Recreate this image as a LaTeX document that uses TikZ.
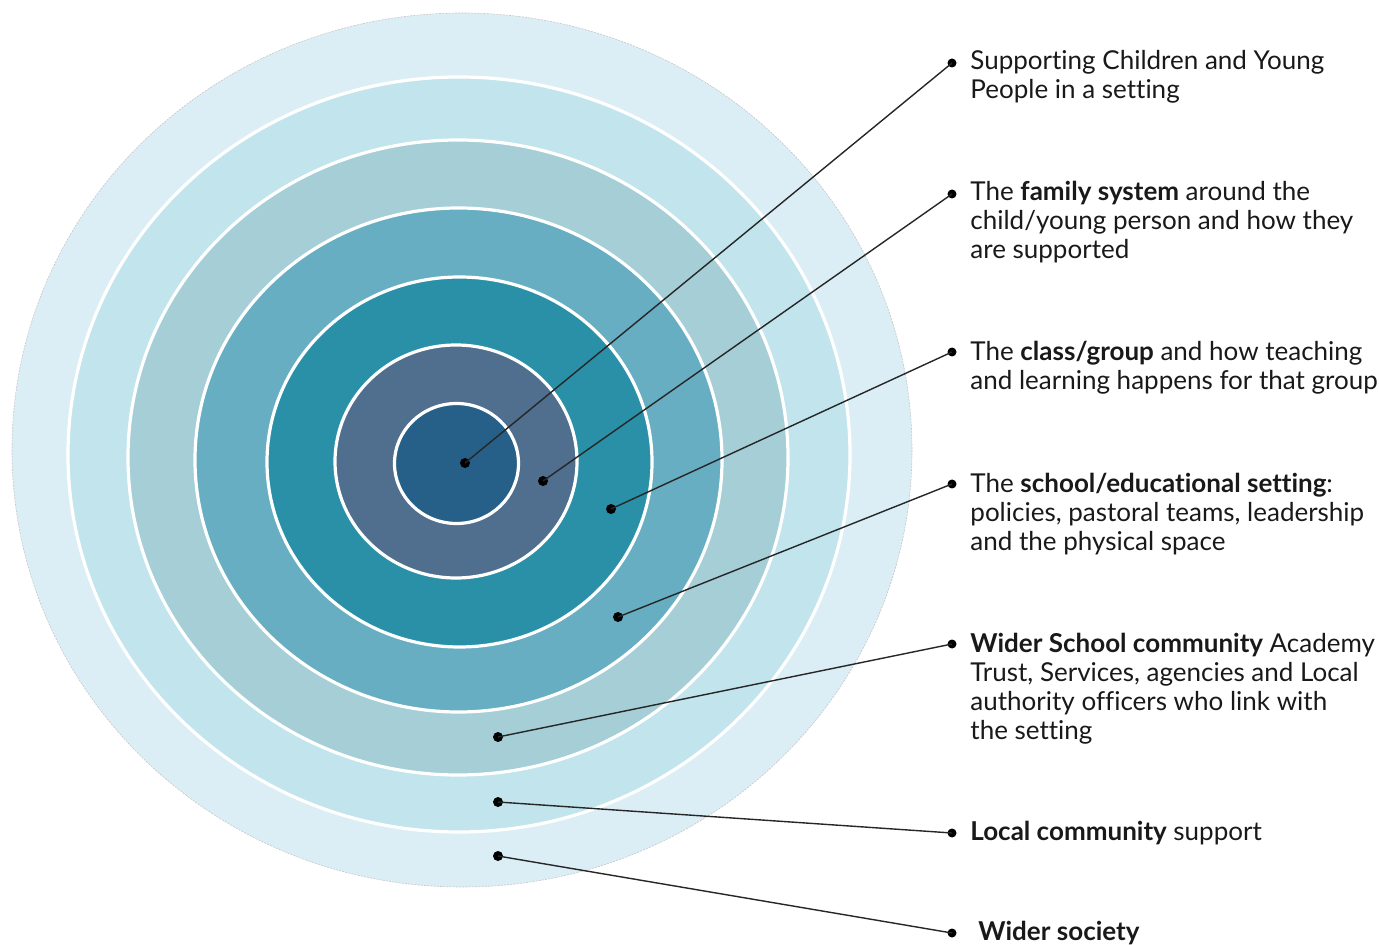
\documentclass[tikz,border=0pt]{standalone}
\usepackage{fontspec}
\setmainfont[Ligatures=NoCommon]{Lato}
\definecolor{cA}{RGB}{220,238,245}
\definecolor{cB}{RGB}{193,228,237}
\definecolor{cC}{RGB}{165,206,215}
\definecolor{cD}{RGB}{104,174,194}
\definecolor{cE}{RGB}{42,144,168}
\definecolor{cF}{RGB}{80,110,142}
\definecolor{cG}{RGB}{38,96,137}
\begin{document}
\begin{tikzpicture}[x=0.5pt,y=-0.5pt,
  ring/.style={draw=white,line width=1.6pt},
  dot/.style={circle,fill=black,inner sep=0pt,minimum size=5pt},
  bul/.style={circle,fill=black,inner sep=0pt,minimum size=4.5pt},
  lead/.style={draw=black!85,line width=0.7pt},
  lbl/.style={anchor=base west,align=left,inner sep=0pt,font=\fontsize{13}{14.5}\selectfont,text=black!90}]
\useasboundingbox (0,0) rectangle (1379,945);
% rings
\fill[cA] (462,450) ellipse [x radius=450, y radius=437];
\draw[gray!45,line width=0.3pt,dash pattern=on 1pt off 0.6pt] (462,450) ellipse [x radius=450, y radius=437];
\filldraw[fill=cB,ring] (459,454.5) ellipse [x radius=391, y radius=377.5];
\filldraw[fill=cC,ring] (458,457.5) ellipse [x radius=330, y radius=317.5];
\filldraw[fill=cD,ring] (458.5,460) ellipse [x radius=263.5, y radius=252];
\filldraw[fill=cE,ring] (459.5,462) ellipse [x radius=192.5, y radius=185];
\filldraw[fill=cF,ring] (456,461.5) ellipse [x radius=121, y radius=116.5];
\filldraw[fill=cG,ring] (456.5,463.5) ellipse [x radius=62, y radius=60];
% inner dots
\node[dot] (d1) at (465,463) {};
\node[dot] (d2) at (543,481) {};
\node[dot] (d3) at (611,509) {};
\node[dot] (d4) at (618,617) {};
\node[dot] (d5) at (498,737) {};
\node[dot] (d6) at (498,802) {};
\node[dot] (d7) at (498,856) {};
% bullets
\node[bul] (b1) at (952,63) {};
\node[bul] (b2) at (952,194) {};
\node[bul] (b3) at (952,352) {};
\node[bul] (b4) at (952,484) {};
\node[bul] (b5) at (952,644) {};
\node[bul] (b6) at (952,833) {};
\node[bul] (b7) at (952,933) {};
% leaders
\draw[lead] (d1.center) -- (b1.center);
\draw[lead] (d2.center) -- (b2.center);
\draw[lead] (d3.center) -- (b3.center);
\draw[lead] (d4.center) -- (b4.center);
\draw[lead] (d5.center) -- (b5.center);
\draw[lead] (d6.center) -- (b6.center);
\draw[lead] (d7.center) -- (b7.center);
% labels (anchored at baseline of their last line)
\node[lbl] (t1) at (970,99) {Supporting Children and Young\\People in a setting};
\node[lbl] (t2) at (970,259) {The \textbf{family system} around the\\child/young person and how they\\are supported};
\node[lbl] (t3) at (970,390) {The \textbf{class/group} and how teaching\\and learning happens for that group};
\node[lbl] (t4) at (970,551) {The \textbf{school/educational setting}:\\policies, pastoral teams, leadership\\and the physical space};
\node[lbl] (t5) at (970,739) {\textbf{Wider School community} Academy\\Trust, Services, agencies and Local\\authority officers who link with\\the setting};
\node[lbl] (t6) at (970,840) {\textbf{Local community} support};
\node[lbl] (t7) at (978,940) {\textbf{Wider society}};
\end{tikzpicture}
\end{document}
